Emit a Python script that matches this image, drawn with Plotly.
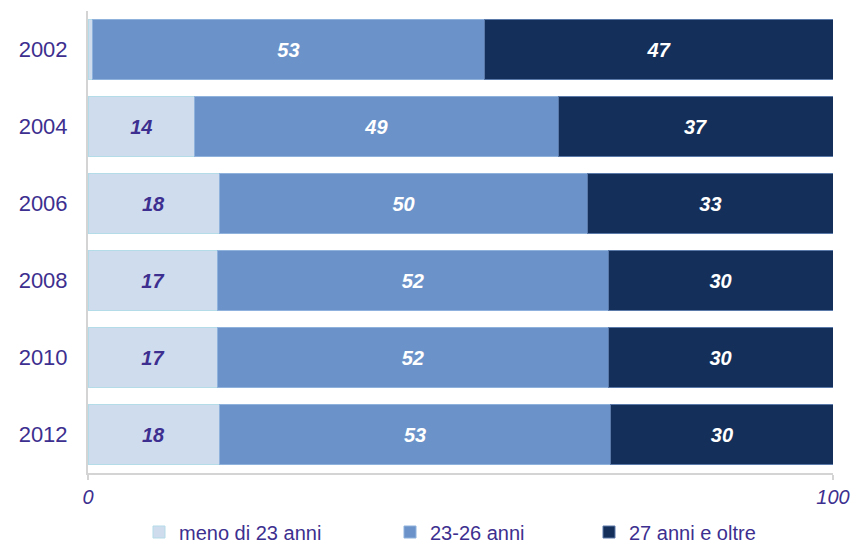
import plotly.graph_objects as go

years = ["2002", "2004", "2006", "2008", "2010", "2012"]
meno_23 = [0.6, 14.3, 17.6, 17.4, 17.4, 17.6]
anni_23_26 = [52.6, 48.8, 49.5, 52.4, 52.4, 52.6]
anni_27_oltre = [46.8, 36.9, 32.9, 30.2, 30.2, 29.8]
series_names = ["meno di 23 anni", "23-26 anni", "27 anni e oltre"]
x_ticks = [0, 100]

PURPLE = "#3d2f8f"
W, H = 855, 546

def labels(vals):
    return ["" if v < 5 else f"{v:.0f}" for v in vals]

fig = go.Figure()
styles = [
    (meno_23, "#cfdcee", "#b4dbe8", PURPLE, "legend"),
    (anni_23_26, "#6b93c9", "#8fb2dc", "white", "legend2"),
    (anni_27_oltre, "#142f59", "#5a78a8", "white", "legend3"),
]
for name, (vals, fill, line, tcol, leg) in zip(series_names, styles):
    fig.add_trace(go.Bar(
        y=years, x=vals, orientation="h", name=name, legend=leg,
        marker=dict(color=fill, line=dict(color=line, width=1)),
        text=labels(vals), textposition="inside", insidetextanchor="middle",
        textangle=0,
        textfont=dict(family="Liberation Sans, Arial", size=20, color=tcol, weight="bold", style="italic"),
        width=0.78,
    ))

leg_common = dict(orientation="h", xref="container", yref="container",
                  y=(H - 532) / H, yanchor="middle", xanchor="left",
                  font=dict(family="Liberation Sans, Arial", size=20, color=PURPLE),
                  itemwidth=30, bgcolor="rgba(0,0,0,0)")
fig.update_layout(
    barmode="stack",
    width=W, height=H,
    margin=dict(l=88, r=22, t=11, b=73),
    plot_bgcolor="white", paper_bgcolor="white",
    font=dict(family="Liberation Sans, Arial", color=PURPLE),
    showlegend=True,
    legend=dict(x=139 / W, **leg_common),
    legend2=dict(x=390 / W, **leg_common),
    legend3=dict(x=589 / W, **leg_common),
)
fig.update_xaxes(range=[0, 100], tickvals=x_ticks, ticktext=[str(t) for t in x_ticks],
                 showgrid=False, zeroline=False, showline=True, linecolor="#d4d4d4", linewidth=2,
                 ticks="outside", ticklen=5, tickcolor="#d4d4d4", tickwidth=2, automargin=False,
                 tickfont=dict(family="Liberation Sans, Arial", size=20, color=PURPLE, style="italic"),
                 ticklabelstandoff=0)
fig.update_yaxes(autorange="reversed", showgrid=False, zeroline=False, automargin=False,
                 showline=True, linecolor="#d4d4d4", linewidth=2,
                 tickfont=dict(family="Liberation Sans, Arial", size=22, color=PURPLE),
                 ticks="", ticklabelstandoff=14)

fig.write_html("out.html", config={"displayModeBar": False},
               post_script="document.body.style.margin='0';document.body.style.overflow='hidden';")
